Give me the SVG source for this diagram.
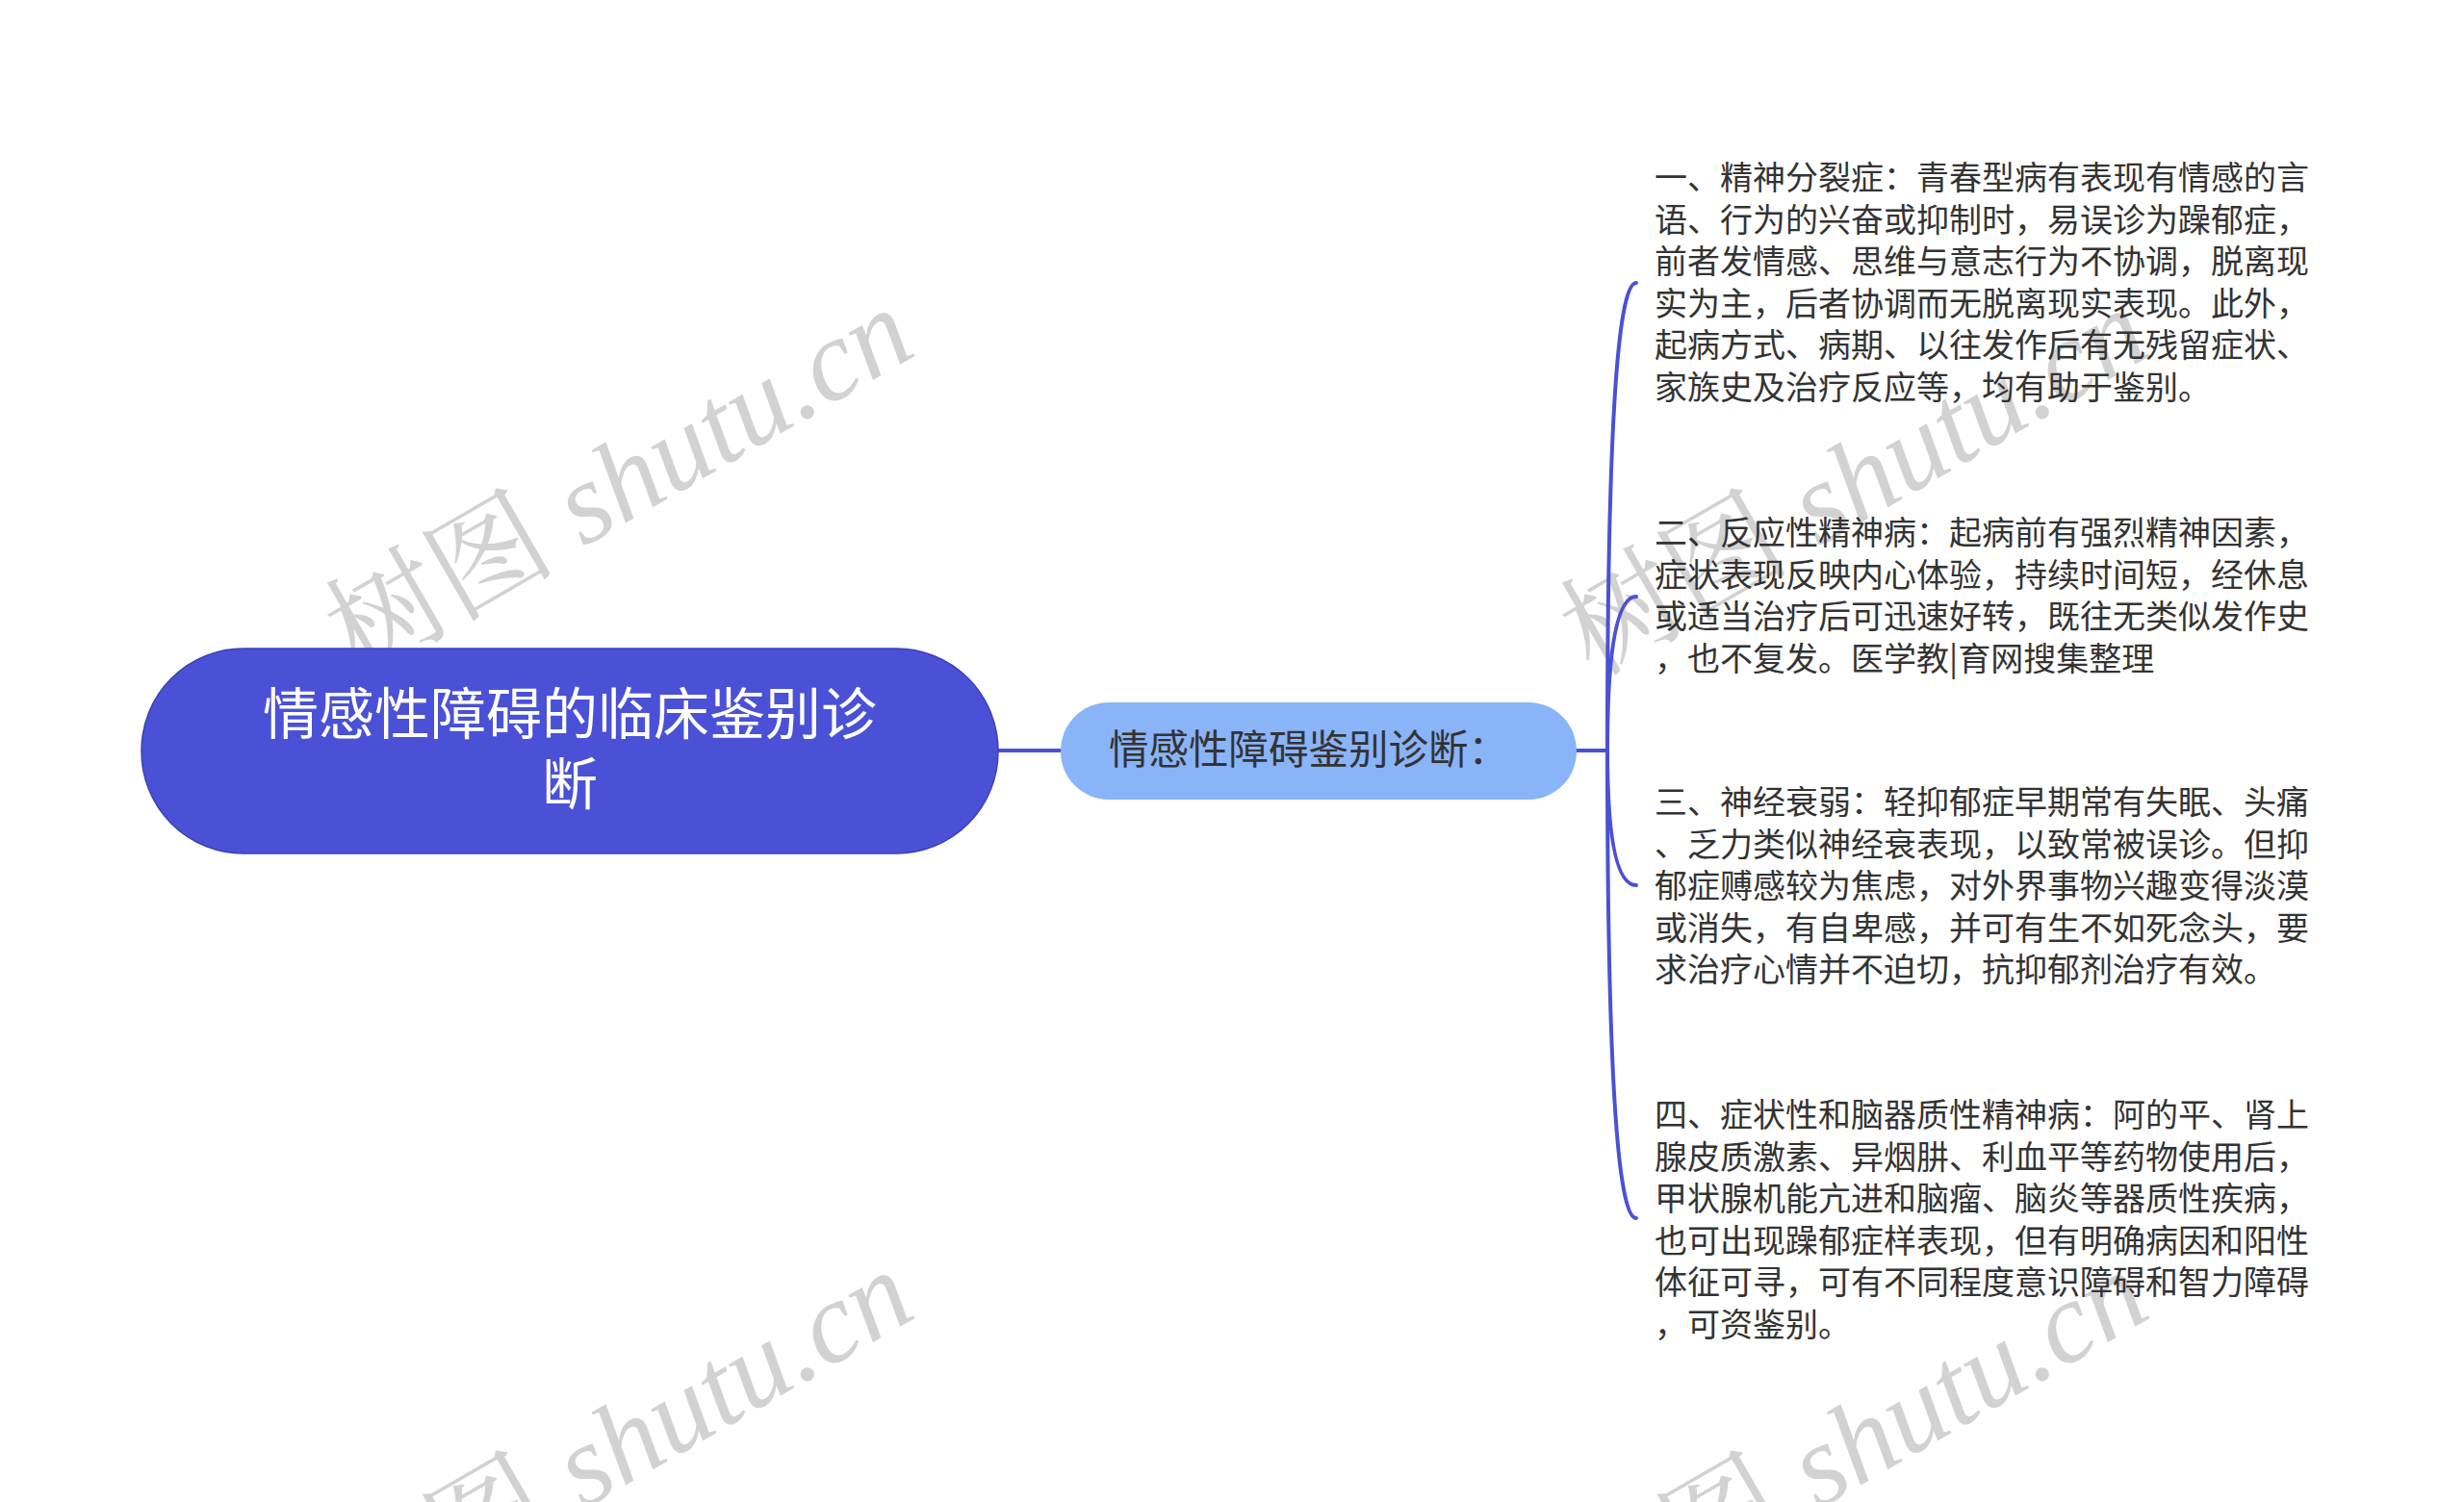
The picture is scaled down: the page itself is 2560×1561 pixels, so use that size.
<svg xmlns="http://www.w3.org/2000/svg" width="2560" height="1561" viewBox="0 0 2560 1561">
<defs>
<style>
.wm{font-family:"Liberation Serif","Noto Serif CJK SC","Noto Sans CJK SC",serif;font-style:italic;font-size:120px;fill:#d2d2d2;}
.wm .cjk{font-style:normal;}
.conn{fill:none;stroke:#4a51d6;stroke-width:4;stroke-linecap:round;}
.root-shape{fill:#4a51d6;stroke:#3b41b8;stroke-width:1.5;}
.root-text{font-family:"Noto Sans CJK SC","Noto Sans",sans-serif;font-size:58px;fill:#ffffff;text-anchor:middle;}
.child-shape{fill:#8ab4f8;}
.child-text{font-family:"Noto Sans CJK SC","Noto Sans",sans-serif;font-size:41.5px;fill:#333333;}
.leaf-text{font-family:"Noto Sans CJK SC","Noto Sans",sans-serif;font-size:34px;fill:#333333;}
</style>
</defs>
<rect width="2560" height="1561" fill="#ffffff"/>

<g id="watermarks">
<text class="wm" transform="translate(372,704) rotate(-30)"><tspan class="cjk">树图</tspan> shutu.cn</text>
<text class="wm" transform="translate(1655,704) rotate(-30)"><tspan class="cjk">树图</tspan> shutu.cn</text>
<text class="wm" transform="translate(372,1704) rotate(-30)"><tspan class="cjk">树图</tspan> shutu.cn</text>
<text class="wm" transform="translate(1655,1704) rotate(-30)"><tspan class="cjk">树图</tspan> shutu.cn</text>
</g>

<g id="connectors">
<path class="conn" d="M1037 780 H1102"/>
<path class="conn" d="M1638 780 H1670"/>
<path class="conn" d="M1670 780 Q1670 294 1700 294"/>
<path class="conn" d="M1670 780 Q1670 620 1700 620"/>
<path class="conn" d="M1670 780 Q1670 920 1700 920"/>
<path class="conn" d="M1670 780 Q1670 1266 1700 1266"/>
</g>

<g id="node-root">
<rect class="root-shape" x="147" y="674" width="890" height="213" rx="106" ry="106"/>
<text class="root-text"><tspan x="592" y="763">情感性障碍的临床鉴别诊</tspan><tspan x="592" y="836">断</tspan></text>
</g>

<g id="node-child">
<rect class="child-shape" x="1102" y="730" width="536" height="101" rx="50" ry="50"/>
<text class="child-text" x="1152" y="794">情感性障碍鉴别诊断：</text>
</g>

<g id="node-leaf1">
<text class="leaf-text"><tspan x="1719" y="197">一、精神分裂症：青春型病有表现有情感的言</tspan><tspan x="1719" y="240.5">语、行为的兴奋或抑制时，易误诊为躁郁症，</tspan><tspan x="1719" y="284">前者发情感、思维与意志行为不协调，脱离现</tspan><tspan x="1719" y="327.5">实为主，后者协调而无脱离现实表现。此外，</tspan><tspan x="1719" y="371">起病方式、病期、以往发作后有无残留症状、</tspan><tspan x="1719" y="414.5">家族史及治疗反应等，均有助于鉴别。</tspan></text>
</g>

<g id="node-leaf2">
<text class="leaf-text"><tspan x="1719" y="566">二、反应性精神病：起病前有强烈精神因素，</tspan><tspan x="1719" y="609.5">症状表现反映内心体验，持续时间短，经休息</tspan><tspan x="1719" y="653">或适当治疗后可迅速好转，既往无类似发作史</tspan><tspan x="1719" y="696.5">，也不复发。医学教|育网搜集整理</tspan></text>
</g>

<g id="node-leaf3">
<text class="leaf-text"><tspan x="1719" y="846">三、神经衰弱：轻抑郁症早期常有失眠、头痛</tspan><tspan x="1719" y="889.5">、乏力类似神经衰表现，以致常被误诊。但抑</tspan><tspan x="1719" y="933">郁症赙感较为焦虑，对外界事物兴趣变得淡漠</tspan><tspan x="1719" y="976.5">或消失，有自卑感，并可有生不如死念头，要</tspan><tspan x="1719" y="1020">求治疗心情并不迫切，抗抑郁剂治疗有效。</tspan></text>
</g>

<g id="node-leaf4">
<text class="leaf-text"><tspan x="1719" y="1171">四、症状性和脑器质性精神病：阿的平、肾上</tspan><tspan x="1719" y="1214.5">腺皮质激素、异烟肼、利血平等药物使用后，</tspan><tspan x="1719" y="1258">甲状腺机能亢进和脑瘤、脑炎等器质性疾病，</tspan><tspan x="1719" y="1301.5">也可出现躁郁症样表现，但有明确病因和阳性</tspan><tspan x="1719" y="1345">体征可寻，可有不同程度意识障碍和智力障碍</tspan><tspan x="1719" y="1388.5">，可资鉴别。</tspan></text>
</g>
</svg>
